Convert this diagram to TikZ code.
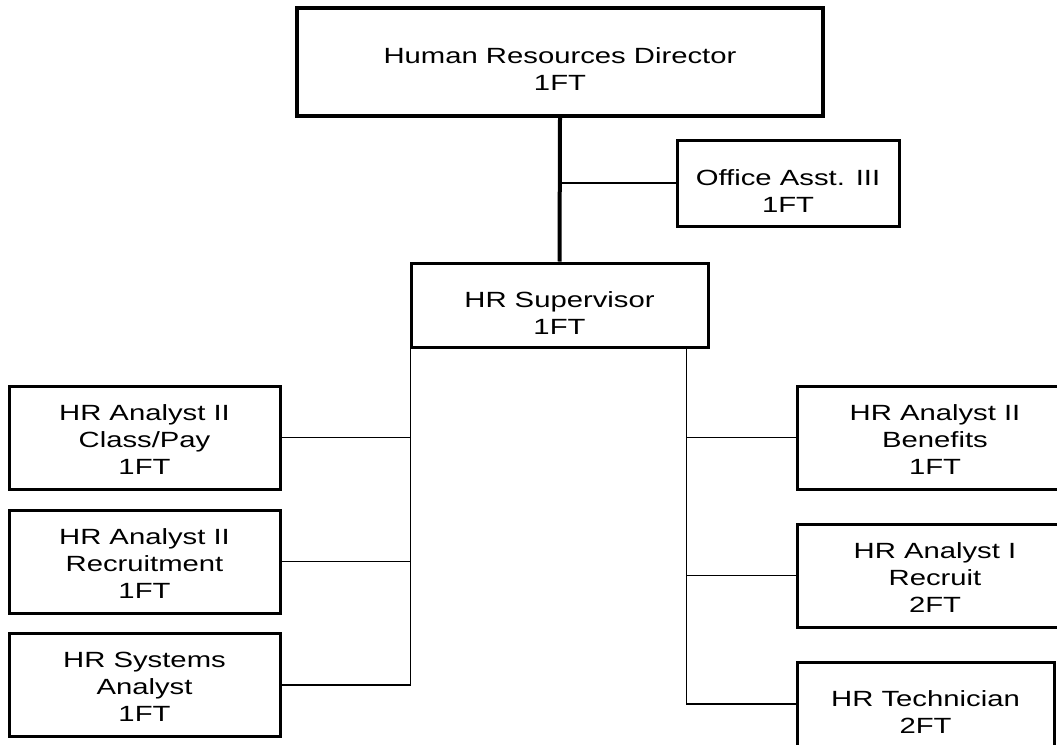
\documentclass[tikz,border=0pt]{standalone}
\usepackage{fontspec}
\setmainfont{Liberation Sans}[FakeStretch=1.33]
\usetikzlibrary{positioning}
\newcommand{\orgfont}{\fontsize{22}{27}\selectfont}
\tikzset{
  orgbox/.style ={rectangle, draw=black, fill=white, line width=3pt, inner sep=0pt},
  orgtext/.style={align=center, font=\orgfont, inner sep=0pt, text=black},
  orgline/.style={line width=1.8pt, black},
  orgtrunk/.style={line width=4pt, black},
}

\begin{document}
\begin{tikzpicture}[x=1pt, y=-1pt,
    leftbox/.style ={orgbox, minimum width=271pt, minimum height=103pt},
    rightbox/.style={orgbox, minimum width=276pt, minimum height=103pt}]
  \useasboundingbox (0,0) rectangle (1057,744);
  \clip (0,0) rectangle (1057,744);
  % top of the chart
  \node[orgbox, line width=4pt, minimum width=526pt, minimum height=108pt,
        label={[orgtext, yshift=-7pt]center:{Human Resources Director\\1FT}}] (dir) at (560,62) {};
  \node[orgbox, minimum width=222pt, minimum height=86pt,
        label={[orgtext, yshift=-8pt]center:{Office Asst. III\\1FT}}] (off) at (788,183) {};
  \node[orgbox, minimum width=297pt, minimum height=84pt,
        label={[orgtext, yshift=-8pt]center:{HR Supervisor\\1FT}}] (sup) at (559.5,305) {};
  % left column
  \node[leftbox, label={[orgtext, yshift=-2pt]center:{HR Analyst II\\Class/Pay\\1FT}}] (cp) at (144.5,437.5) {};
  \node[leftbox, label={[orgtext, yshift=-2pt]center:{HR Analyst II\\Recruitment\\1FT}}] (rc) at (144.5,561.5) {};
  \node[leftbox, label={[orgtext, yshift=-2pt]center:{HR Systems\\Analyst\\1FT}}] (sa) at (144.5,685) {};
  % right column
  \node[rightbox, label={[orgtext, yshift=-2pt]center:{HR Analyst II\\Benefits\\1FT}}] (ben) at (935,437.5) {};
  \node[rightbox, label={[orgtext, yshift=-2pt]center:{HR Analyst I\\Recruit\\2FT}}] (rec) at (935,575.5) {};
  \node[orgbox, minimum width=257pt, minimum height=84pt,
        label={[orgtext, yshift=-8pt]center:{HR Technician\\2FT}}] (tech) at (925.5,704) {};
  % connectors
  \coordinate (lt) at ([xshift=1pt]sup.south west);
  \coordinate (rt) at ([xshift=-23pt]sup.south east);
  \draw[orgtrunk] (dir.south) -- (sup.north);
  \draw[orgline] (dir.south |- off.west) -- (off.west);
  \draw[orgline] (lt) |- (sa.east);
  \draw[orgline] (cp.east) -- (cp.east -| lt);
  \draw[orgline] (rc.east) -- (rc.east -| lt);
  \draw[orgline] (rt) |- (tech.west);
  \draw[orgline] (ben.west) -- (ben.west -| rt);
  \draw[orgline] (rec.west) -- (rec.west -| rt);
\end{tikzpicture}
\end{document}
